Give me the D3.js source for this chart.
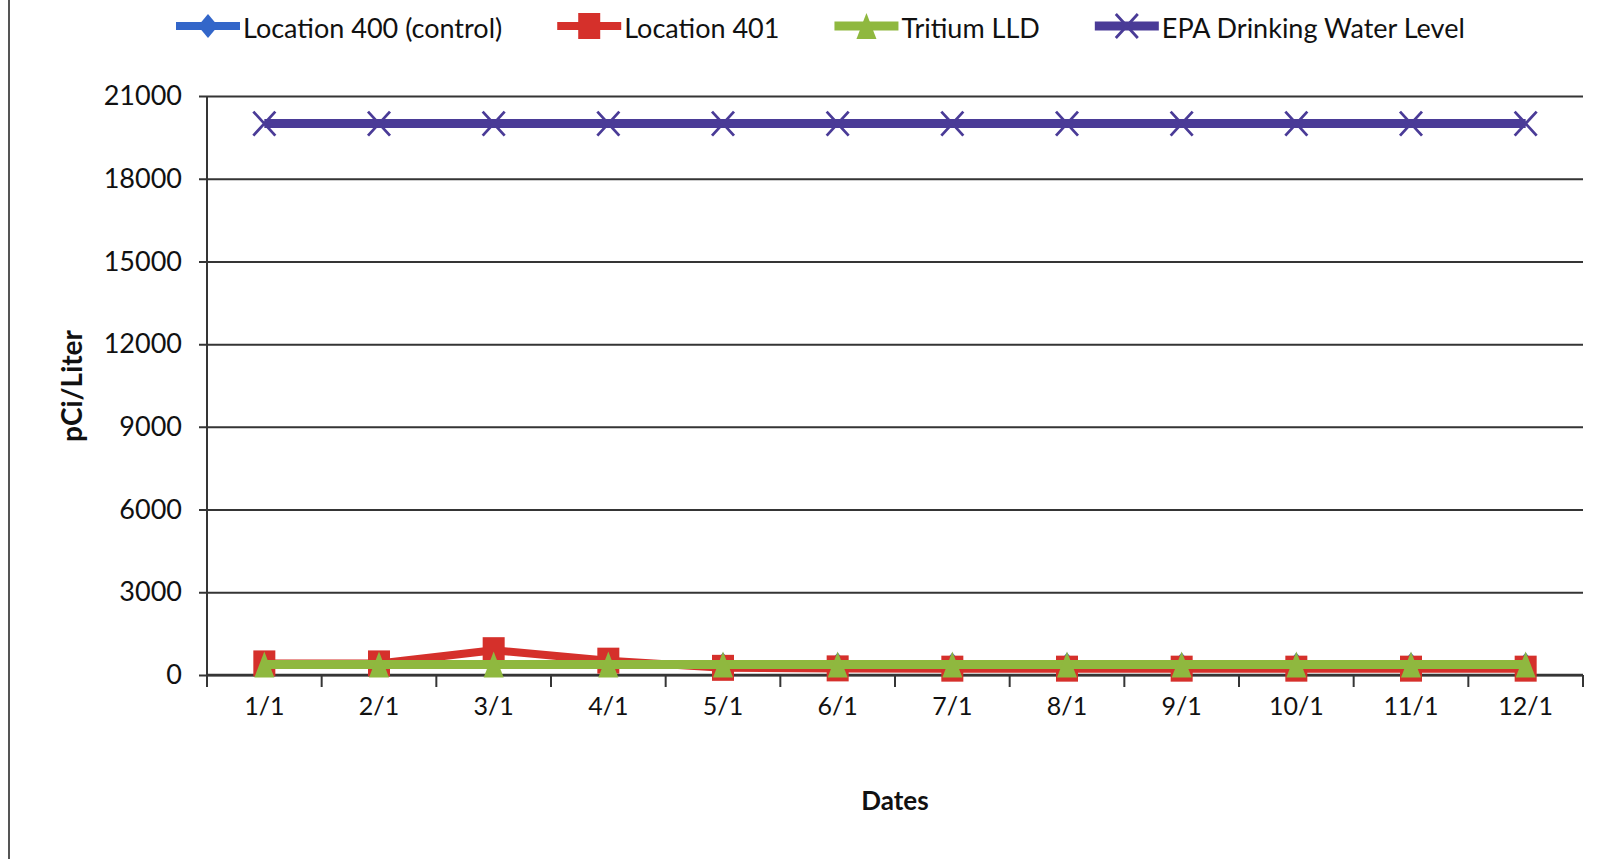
<!DOCTYPE html>
<html>
<head>
<meta charset="utf-8">
<script src="https://cdn.jsdelivr.net/npm/d3@7"></script>
<style>
    body { margin: 0; background: #ffffff; }
    svg { display: block; font-family: Lato, "Open Sans", sans-serif; }
</style>
</head>
<body>
<svg id="chart" width="1607" height="859"></svg>
<script>
// values (pCi/Liter)
const dates = ["1/1", "2/1", "3/1", "4/1", "5/1", "6/1", "7/1", "8/1", "9/1", "10/1", "11/1", "12/1"];
const location400 = [380, 380, 380, 380, 380, 380, 380, 380, 380, 380, 380, 380];
const location401 = [420, 420, 900, 520, 260, 240, 230, 230, 230, 230, 230, 230];
const tritiumLLD = [380, 380, 380, 380, 380, 380, 380, 380, 380, 380, 380, 380];
const epaLevel = [20000, 20000, 20000, 20000, 20000, 20000, 20000, 20000, 20000, 20000, 20000, 20000];
const yTicks = [0, 3000, 6000, 9000, 12000, 15000, 18000, 21000];
const seriesNames = ["Location 400 (control)", "Location 401", "Tritium LLD", "EPA Drinking Water Level"];

const svg = d3.select("#chart");

const plot = { left: 207, right: 1583, top: 96, bottom: 675 };
const gridColor = "#353535";

const series = [
    { name: seriesNames[0], values: location400, color: "#3366c9", marker: "diamond", width: 8 },
    { name: seriesNames[1], values: location401, color: "#d5302b", marker: "square", width: 8 },
    { name: seriesNames[2], values: tritiumLLD, color: "#8fb83f", marker: "triangle", width: 9 },
    { name: seriesNames[3], values: epaLevel, color: "#4a3b97", marker: "x", width: 9 }
];

const xScale = d3.scaleBand().domain(dates).range([plot.left, plot.right]);
const yScale = d3.scaleLinear().domain([0, 21000]).range([plot.bottom, plot.top]);
const xMid = d => xScale(d) + xScale.bandwidth() / 2;

// outer frame edge on the left
svg.append("line")
    .attr("x1", 9).attr("x2", 9)
    .attr("y1", 0).attr("y2", 859)
    .attr("stroke", "#555").attr("stroke-width", 2);

// horizontal gridlines + y tick labels
const yAxis = d3.axisLeft(yScale)
    .tickValues(yTicks)
    .tickSize(0)
    .tickFormat(d3.format("d"));

const yAxisG = svg.append("g")
    .attr("transform", `translate(${plot.left},0)`)
    .call(yAxis);
yAxisG.select(".domain").remove();
yAxisG.selectAll(".tick line")
    .attr("stroke", gridColor)
    .attr("stroke-width", 2)
    .attr("x1", -8)
    .attr("x2", plot.right - plot.left);
yAxisG.selectAll(".tick text")
    .attr("x", -25)
    .attr("fill", "#111")
    .style("font-size", "27px")
    .style("font-family", "Lato");

// vertical axis line
svg.append("line")
    .attr("x1", plot.left).attr("x2", plot.left)
    .attr("y1", plot.top).attr("y2", plot.bottom)
    .attr("stroke", gridColor).attr("stroke-width", 2);

// x axis with ticks at band edges
svg.append("line")
    .attr("x1", plot.left).attr("x2", plot.right)
    .attr("y1", plot.bottom).attr("y2", plot.bottom)
    .attr("stroke", gridColor).attr("stroke-width", 2.5);

const edges = dates.map(d => xScale(d)).concat([plot.right]);
svg.append("g").selectAll("line")
    .data(edges)
    .join("line")
    .attr("x1", d => d).attr("x2", d => d)
    .attr("y1", plot.bottom).attr("y2", plot.bottom + 12)
    .attr("stroke", gridColor).attr("stroke-width", 2);

svg.append("g").selectAll("text")
    .data(dates)
    .join("text")
    .attr("x", d => xMid(d))
    .attr("y", plot.bottom + 30)
    .attr("text-anchor", "middle")
    .attr("dominant-baseline", "central")
    .attr("fill", "#111")
    .style("font-size", "25px")
    .text(d => d);

// axis titles
svg.append("text")
    .attr("x", 895).attr("y", 800)
    .attr("text-anchor", "middle")
    .attr("dominant-baseline", "central")
    .style("font-size", "26px")
    .style("font-weight", "bold")
    .attr("fill", "#111")
    .text("Dates");

svg.append("text")
    .attr("transform", "translate(71,386) rotate(-90)")
    .attr("text-anchor", "middle")
    .attr("dominant-baseline", "central")
    .style("font-size", "28px")
    .style("font-weight", "bold")
    .attr("fill", "#111")
    .text("pCi/Liter");

function drawMarker(g, type, color) {
    if (type === "diamond") {
        g.append("path").attr("d", "M0,-12L10,0L0,12L-10,0Z").attr("fill", color);
    } else if (type === "square") {
        g.append("rect").attr("x", -11).attr("y", -13).attr("width", 22).attr("height", 26).attr("fill", color);
    } else if (type === "triangle") {
        g.append("path").attr("d", "M0,-13L10,13L-10,13Z").attr("fill", color);
    } else {
        g.append("path").attr("d", "M-11,-12L11,12M-11,12L11,-12")
            .attr("stroke", color).attr("stroke-width", 2.8).attr("fill", "none");
    }
}

const line = d3.line()
    .x((v, i) => xMid(dates[i]))
    .y(v => yScale(v));

series.forEach(s => {
    const g = svg.append("g");
    g.append("path")
        .attr("d", line(s.values))
        .attr("fill", "none")
        .attr("stroke", s.color)
        .attr("stroke-width", s.width)
        .attr("stroke-linejoin", "round");
    g.selectAll("g.mk")
        .data(s.values)
        .join("g")
        .attr("class", "mk")
        .attr("transform", (v, i) => `translate(${xMid(dates[i])},${yScale(v)})`)
        .each(function () { drawMarker(d3.select(this), s.marker, s.color); });
});

// legend across the top
const legend = svg.append("g").attr("transform", "translate(176,26)");
let lx = 0;
series.forEach(s => {
    const item = legend.append("g").attr("transform", `translate(${lx},0)`);
    item.append("line")
        .attr("x1", 0).attr("x2", 64)
        .attr("stroke", s.color).attr("stroke-width", s.width);
    drawMarker(item.append("g").attr("transform", "translate(32,0)"), s.marker, s.color);
    const t = item.append("text")
        .attr("x", 67)
        .attr("y", 1)
        .attr("dominant-baseline", "central")
        .attr("fill", "#111")
        .style("font-size", "27px")
        .text(s.name);
    lx += 67 + t.node().getComputedTextLength() + 55;
});
</script>
</body>
</html>
